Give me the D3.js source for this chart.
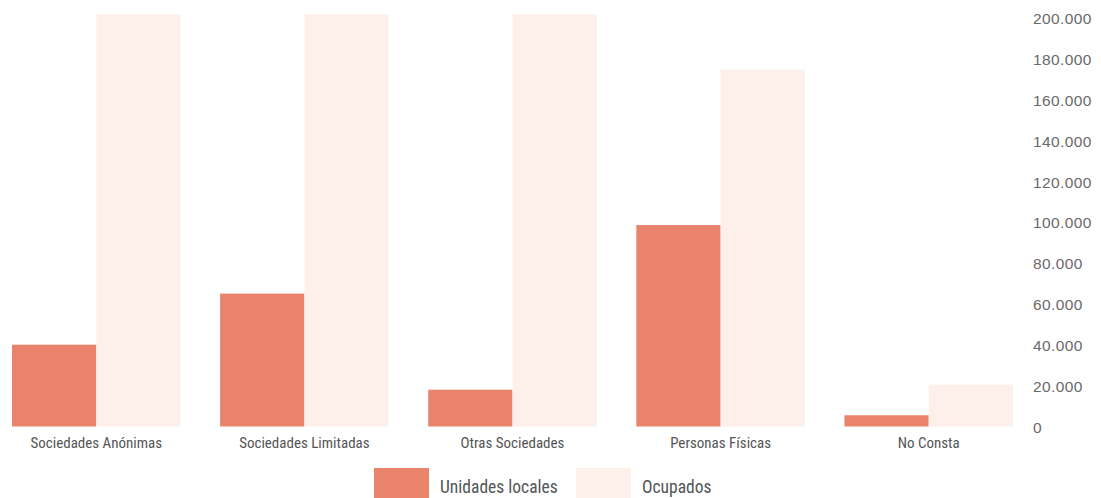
<!DOCTYPE html>
<html><head><meta charset="utf-8">
<script src="https://cdn.jsdelivr.net/npm/d3@7"></script>
<style>body{margin:0;background:#fff}svg{display:block}</style>
</head><body>
<svg id="c" width="1101" height="498"></svg>
<script>
const categories = ["Sociedades Anónimas","Sociedades Limitadas","Otras Sociedades","Personas Físicas","No Consta"];
const seriesNames = ["Unidades locales","Ocupados"];
const unidades = [40000, 65000, 18000, 98500, 5500];
const ocupados = [201500, 201500, 201500, 174500, 20500];
const yTicks = [0,20000,40000,60000,80000,100000,120000,140000,160000,180000,200000];
const colors = ["#ea836b","#fdf0ea"];

const svg = d3.select("#c");
const x = d3.scaleBand().domain(categories).range([12,1013]).paddingInner(0.19).paddingOuter(0);
const xs = d3.scaleBand().domain(seriesNames).range([0,x.bandwidth()]).padding(0);
const y = d3.scaleLinear().domain([0,200000]).range([426.5,17.5]);

const rows = categories.map((c,i)=>({c, vals:[unidades[i], ocupados[i]]}));
const g = svg.append("g");
g.selectAll("g.grp").data(rows).join("g")
  .attr("transform", d=>`translate(${x(d.c)},0)`)
  .selectAll("rect").data(d=>d.vals.map((v,j)=>({s:seriesNames[j], v, j})))
  .join("rect")
  .attr("x", d=>xs(d.s)).attr("width", xs.bandwidth())
  .attr("y", d=>y(d.v)).attr("height", d=>y(0)-y(d.v))
  .attr("fill", d=>colors[d.j]);

const fmt = v => d3.format(",")(v).replace(/,/g,".");
const ax = d3.axisRight(y).tickValues(yTicks).tickFormat(fmt).tickSize(0).tickPadding(0);
const axg = svg.append("g").attr("transform","translate(1033,1)").call(ax);
axg.select(".domain").remove();
axg.selectAll("text").attr("font-family","Liberation Sans, Arial, sans-serif").attr("font-size",15.5)
  .attr("letter-spacing","0.4px").attr("fill","#6a6a6a");

const xa = d3.axisBottom(x).tickSize(0).tickPadding(0);
const xag = svg.append("g").attr("transform","translate(0,437)").call(xa);
xag.select(".domain").remove();
xag.selectAll("text").attr("font-family","Liberation Sans Narrow, Roboto Condensed, Arial Narrow, Roboto, sans-serif").attr("font-size",15).attr("fill","#555").attr("dy","0.71em");

const legend = svg.append("g");
const swX = [374, 576];
const txX = [440, 642];
seriesNames.forEach((s,i)=>{
  legend.append("rect").attr("x",swX[i]).attr("y",468).attr("width",55).attr("height",30).attr("fill",colors[i]);
  legend.append("text").attr("x",txX[i]).attr("y",493).text(s)
    .attr("font-family","Liberation Sans Narrow, Roboto Condensed, Arial Narrow, Roboto, sans-serif").attr("font-size",17.5).attr("fill","#555");
});
</script>
</body></html>
